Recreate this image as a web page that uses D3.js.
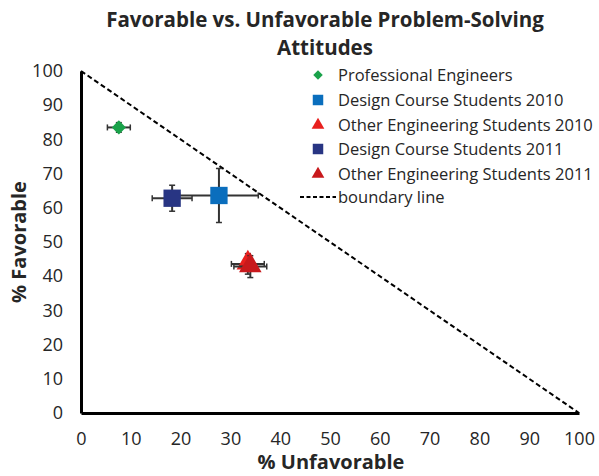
<!DOCTYPE html>
<html><head><meta charset="utf-8">
<script src="https://cdn.jsdelivr.net/npm/d3@7"></script>
<style>body{margin:0;background:#fff}svg{display:block}text{font-family:"Open Sans",sans-serif;fill:#262626}</style>
</head><body><svg id="c" width="599" height="476"></svg>
<script>
const series = ["Professional Engineers","Design Course Students 2010","Other Engineering Students 2010","Design Course Students 2011","Other Engineering Students 2011"];
const unfavorable = [7.6, 27.7, 33.5, 18.3, 34.0];
const favorable = [83.5, 63.6, 43.6, 62.8, 42.8];
const errX = [2.3, 7.9, 3.3, 4.0, 3.3];
const errY = [1.4, 7.9, 3.0, 3.8, 3.2];
const shapes = ["diamond","square","triangle","square","triangle"];
const colors = ["#1aa24a","#0a6ebd","#e8201e","#283583","#c8191c"];
const boundaryX = [0, 100];
const boundaryY = [100, 0];
const ticks = [0,10,20,30,40,50,60,70,80,90,100];

const svg = d3.select("#c");
const x = d3.scaleLinear().domain([0,100]).range([81,579]);
const y = d3.scaleLinear().domain([0,100]).range([413,71]);

// title
svg.append("text").attr("x",325).attr("y",27).attr("text-anchor","middle").attr("font-size",20.5).attr("font-weight","bold").text("Favorable vs. Unfavorable Problem-Solving");
svg.append("text").attr("x",325).attr("y",55).attr("text-anchor","middle").attr("font-size",20.5).attr("font-weight","bold").text("Attitudes");

// axes
const xa = svg.append("g").attr("transform","translate(0,413)").call(d3.axisBottom(x).tickValues(ticks).tickSize(0).tickPadding(19));
const ya = svg.append("g").attr("transform","translate(81,0)").call(d3.axisLeft(y).tickValues(ticks).tickSize(0).tickPadding(18));
[xa,ya].forEach(a=>{a.select(".domain").attr("stroke","#000").attr("stroke-width",3);a.selectAll("text").attr("font-size",18).attr("font-family","'Open Sans', sans-serif").attr("fill","#404040");});
svg.append("text").attr("x",331).attr("y",469).attr("text-anchor","middle").attr("font-size",20).attr("font-weight","bold").text("% Unfavorable");
svg.append("text").attr("transform","translate(26,242) rotate(-90)").attr("text-anchor","middle").attr("font-size",20).attr("font-weight","bold").text("% Favorable");

// boundary line
svg.append("path").attr("d",d3.line().x(d=>x(d[0])).y(d=>y(d[1]))(boundaryX.map((v,i)=>[v,boundaryY[i]])))
  .attr("stroke","#000").attr("stroke-width",2).attr("stroke-dasharray","5,3").attr("fill","none");

const symType = {diamond:d3.symbolSquare, square:d3.symbolSquare, triangle:d3.symbolTriangle};
const symSize = {diamond:100, square:300, triangle:220};
const symRot = {diamond:45, square:0, triangle:0};

series.forEach((s,i)=>{
  const g = svg.append("g");
  const cx = x(unfavorable[i]), cy = y(favorable[i]);
  const ec = "#333";
  const x0 = x(unfavorable[i]-errX[i]), x1 = x(unfavorable[i]+errX[i]);
  const y0 = y(favorable[i]-errY[i]), y1 = y(favorable[i]+errY[i]);
  g.append("line").attr("x1",x0).attr("x2",x1).attr("y1",cy).attr("y2",cy).attr("stroke",ec).attr("stroke-width",2);
  g.append("line").attr("x1",cx).attr("x2",cx).attr("y1",y0).attr("y2",y1).attr("stroke",ec).attr("stroke-width",2);
  [x0,x1].forEach(xx=>g.append("line").attr("x1",xx).attr("x2",xx).attr("y1",cy-3).attr("y2",cy+3).attr("stroke",ec).attr("stroke-width",1.5));
  [y0,y1].forEach(yy=>g.append("line").attr("x1",cx-3).attr("x2",cx+3).attr("y1",yy).attr("y2",yy).attr("stroke",ec).attr("stroke-width",1.5));
  g.append("path").attr("d",d3.symbol().type(symType[shapes[i]]).size(symSize[shapes[i]])())
   .attr("transform",`translate(${cx},${cy+(shapes[i]==="triangle"?-1:0)}) rotate(${symRot[shapes[i]]})`).attr("fill",colors[i]);
});

// legend
const ly = [75,100,125,149,174];
series.forEach((s,i)=>{
  svg.append("path").attr("d",d3.symbol().type(symType[shapes[i]]).size(shapes[i]==="diamond"?45:shapes[i]==="square"?110:70)())
    .attr("transform",`translate(318,${ly[i]}) rotate(${symRot[shapes[i]]})`).attr("fill",colors[i]);
  svg.append("text").attr("x",338).attr("y",ly[i]+6).attr("font-size",16.5).attr("fill","#404040").text(s);
});
svg.append("line").attr("x1",300).attr("x2",336).attr("y1",197).attr("y2",197).attr("stroke","#000").attr("stroke-width",2).attr("stroke-dasharray","4,2.5");
svg.append("text").attr("x",338).attr("y",203).attr("font-size",16.5).attr("fill","#404040").text("boundary line");
</script></body></html>
